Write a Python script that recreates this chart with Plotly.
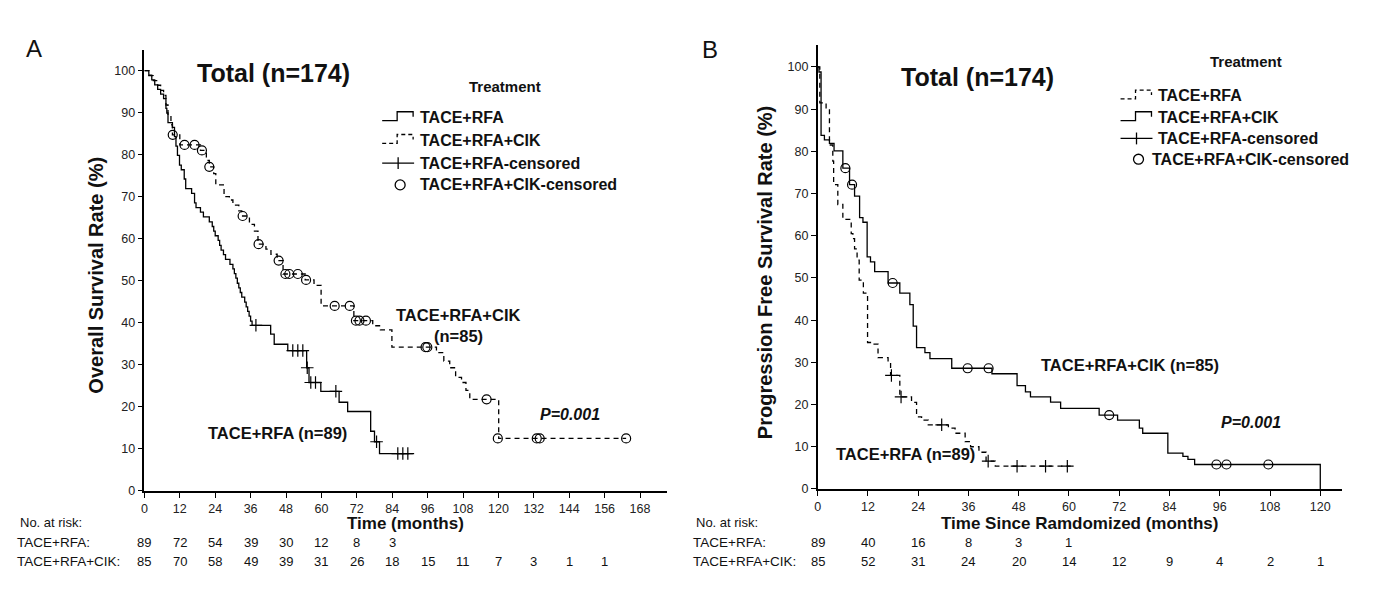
import plotly.graph_objects as go

W, H = 1377, 611           # reference picture size
OFF = 8                    # default page body margin
FW, FH = W - 2 * OFF, H - 2 * OFF
FONT = "Liberation Sans, Arial, sans-serif"

# ---------------- Panel A: overall survival ----------------
os_rfa_time = [1.5, 2.5, 3.5, 4.5, 5.5, 6.5, 7.3, 7.6, 8.0, 9.5, 10.2, 10.7, 11.2, 11.9, 12.5, 13.5,
               14.0, 16.0, 17.0, 17.5, 19.0, 20.0, 22.0, 23.0, 23.5, 24.0, 25.0, 25.5, 26.0, 26.8,
               27.5, 29.0, 30.0, 30.5, 31.0, 31.5, 32.0, 32.5, 33.0, 34.0, 34.5, 35.0, 35.5, 36.0,
               36.5, 42.8, 44.0, 48.6, 55.0, 55.8, 59.8, 66.0, 68.9, 76.7, 78.0, 79.7]
os_rfa_surv = [98.9, 97.8, 96.6, 95.5, 94.4, 93.3, 91.0, 89.9, 87.6, 86.5, 84.3, 82.0, 79.8, 77.5, 76.4, 74.2,
               71.9, 70.8, 68.5, 67.4, 66.3, 65.2, 64.0, 62.9, 61.8, 60.7, 59.6, 58.4, 57.3, 56.2,
               55.1, 53.9, 52.8, 51.7, 50.6, 49.4, 48.3, 47.2, 46.1, 44.9, 43.8, 42.7, 41.6, 40.4,
               39.4, 37.3, 34.9, 33.4, 29.3, 25.8, 23.7, 21.1, 18.9, 14.2, 11.7, 8.9]
os_rfa_end = 91.0
os_rfa_cens_time = [37.8, 50.3, 52.0, 53.7, 55.2, 56.4, 58.0, 64.9, 78.7, 85.9, 87.6, 89.3]
os_rfa_cens_surv = [39.4, 33.4, 33.4, 33.4, 29.3, 25.8, 25.8, 23.7, 11.7, 8.9, 8.9, 8.9]

os_cik_time = [1.5, 3.0, 4.5, 5.5, 6.5, 7.3, 8.0, 9.0, 9.5, 12.0, 19.0, 21.0, 22.0, 23.5, 24.2,
               27.0, 28.8, 30.0, 32.0, 33.0, 35.6, 37.3, 38.5, 41.2, 42.9, 45.0, 47.0, 54.5, 57.5,
               59.9, 71.0, 77.4, 80.0, 83.9, 99.0, 101.5, 103.5, 105.5, 107.5, 109.0, 110.3, 120.1]
os_cik_surv = [98.8, 97.6, 96.5, 95.3, 94.1, 91.8, 89.4, 87.1, 84.7, 82.3, 81.0, 78.6, 77.1, 75.5, 72.8,
               70.0, 69.2, 68.0, 66.6, 65.4, 63.4, 61.8, 58.7, 57.5, 56.3, 54.8, 51.6, 50.2, 48.9,
               44.0, 40.5, 39.3, 38.3, 34.2, 32.9, 30.9, 29.3, 27.0, 25.8, 23.9, 21.8, 12.5]
os_cik_end = 163.3
os_cik_cens_time = [9.6, 13.6, 17.0, 19.5, 22.0, 33.3, 38.7, 45.5, 47.8, 49.1, 52.0, 54.8, 64.5, 69.6,
                    71.7, 72.9, 75.1, 95.3, 95.9, 116.0, 119.8, 133.0, 134.0, 163.3]
os_cik_cens_surv = [84.7, 82.3, 82.3, 81.0, 77.1, 65.4, 58.7, 54.8, 51.6, 51.6, 51.6, 50.2, 44.0, 44.0,
                    40.5, 40.5, 40.5, 34.2, 34.2, 21.8, 12.5, 12.5, 12.5, 12.5]

os_ticks = list(range(0, 169, 12))
os_risk_rfa = [89, 72, 54, 39, 30, 12, 8, 3]
os_risk_cik = [85, 70, 58, 49, 39, 31, 26, 18, 15, 11, 7, 3, 1, 1]

# ---------------- Panel B: progression free survival ----------------
pfs_cik_time = [0.3, 0.8, 1.6, 2.8, 3.9, 6.0, 7.6, 8.8, 10.0, 10.8, 11.8, 12.6, 13.6, 16.8, 19.6,
                22.0, 22.8, 23.6, 25.6, 26.8, 32.0, 41.6, 47.6, 49.6, 50.8, 55.6, 58.0, 67.2, 71.6,
                76.8, 77.6, 83.6, 87.2, 88.4, 90.0, 120.0]
pfs_cik_surv = [98.8, 83.8, 82.7, 81.9, 80.1, 76.0, 72.1, 69.4, 64.3, 63.2, 55.0, 53.8, 51.5, 48.8, 46.4,
                43.7, 38.6, 33.5, 32.3, 30.9, 28.6, 27.3, 24.5, 23.0, 21.8, 20.6, 19.1, 17.5, 16.3,
                14.4, 13.2, 8.5, 7.7, 7.0, 5.8, 0.0]
pfs_cik_end = 120.0
pfs_cik_cens_time = [6.6, 8.2, 17.9, 35.8, 40.8, 69.6, 95.2, 97.6, 107.6]
pfs_cik_cens_surv = [76.0, 72.1, 48.8, 28.6, 28.6, 17.5, 5.8, 5.8, 5.8]

pfs_rfa_time = [0.5, 2.0, 2.8, 3.6, 3.8, 4.8, 6.0, 8.0, 8.4, 8.8, 9.4, 9.9, 10.9, 11.9, 12.8,
                14.4, 16.8, 17.4, 19.6, 22.4, 23.6, 24.8, 26.4, 31.2, 32.8, 35.2, 36.5, 38.5, 40.2, 42.4]
pfs_rfa_surv = [91.5, 90.0, 81.5, 77.7, 72.1, 67.4, 63.9, 60.5, 59.3, 56.9, 54.2, 49.5, 46.4, 34.7, 34.3,
                31.1, 30.0, 26.9, 21.8, 20.5, 17.1, 16.3, 15.2, 14.4, 13.2, 11.2, 10.0, 8.7, 6.6, 5.4]
pfs_rfa_end = 60.4
pfs_rfa_cens_time = [17.6, 19.9, 29.6, 40.7, 47.6, 54.4, 59.6]
pfs_rfa_cens_surv = [26.9, 21.8, 15.2, 6.6, 5.4, 5.4, 5.4]

pfs_ticks = list(range(0, 121, 12))
pfs_risk_rfa = [89, 40, 16, 8, 3, 1]
pfs_risk_cik = [85, 52, 31, 24, 20, 14, 12, 9, 4, 2, 1]

y_ticks = list(range(0, 101, 10))


def px(x):
    return (x - OFF) / FW


def py(y):
    return 1 - (y - OFF) / FH


def km(times, surv, end):
    xs = [0.0] + list(times)
    ys = [100.0] + list(surv)
    if xs[-1] < end:
        xs.append(end)
        ys.append(ys[-1])
    return xs, ys


fig = go.Figure()
LW = 1.3
DASH = "5px,4px"


def add_curve(times, surv, end, dash, xa, ya):
    xs, ys = km(times, surv, end)
    fig.add_trace(go.Scatter(x=xs, y=ys, mode="lines", line=dict(color="black", width=LW, dash=dash, shape="hv"),
                             xaxis=xa, yaxis=ya, showlegend=False, hoverinfo="skip"))


def add_cens(times, surv, symbol, size, xa, ya):
    fig.add_trace(go.Scatter(x=times, y=surv, mode="markers",
                             marker=dict(symbol=symbol, size=size, color="black",
                                         line=dict(color="black", width=1.2)),
                             xaxis=xa, yaxis=ya, showlegend=False, hoverinfo="skip"))


add_curve(os_rfa_time, os_rfa_surv, os_rfa_end, "solid", "x", "y")
add_curve(os_cik_time, os_cik_surv, os_cik_end, DASH, "x", "y")
add_cens(os_rfa_cens_time, os_rfa_cens_surv, "cross-thin-open", 9, "x", "y")
add_cens(os_cik_cens_time, os_cik_cens_surv, "circle-open", 9, "x", "y")

add_curve(pfs_rfa_time, pfs_rfa_surv, pfs_rfa_end, DASH, "x2", "y2")
add_curve(pfs_cik_time, pfs_cik_surv, pfs_cik_end, "solid", "x2", "y2")
add_cens(pfs_rfa_cens_time, pfs_rfa_cens_surv, "cross-thin-open", 9, "x2", "y2")
add_cens(pfs_cik_cens_time, pfs_cik_cens_surv, "circle-open", 9, "x2", "y2")

axis_common = dict(showline=True, linecolor="black", linewidth=1.5, ticks="outside", ticklen=5,
                   tickwidth=1.3, tickcolor="black", showgrid=False, zeroline=False,
                   tickfont=dict(family=FONT, size=12.5, color="#222"), fixedrange=True)

fig.update_layout(
    width=FW, height=FH, margin=dict(l=0, r=0, t=0, b=0),
    paper_bgcolor="white", plot_bgcolor="white", showlegend=False,
    xaxis=dict(domain=[px(141.7), px(665)], range=[0, 177], tickvals=os_ticks, anchor="y", **axis_common),
    yaxis=dict(domain=[py(496.7), py(50)], range=[0, 105], tickvals=y_ticks, anchor="x", **axis_common),
    xaxis2=dict(domain=[px(816.5), px(1342)], range=[0, 125.2], tickvals=pfs_ticks, anchor="y2", **axis_common),
    yaxis2=dict(domain=[py(494.7), py(45)], range=[0, 105.3], tickvals=y_ticks, anchor="x2", **axis_common),
)

ann = []


def text(x, y, s, size, bold=False, italic=False, xanchor="center", angle=0, xref="paper", color="#111"):
    t = s
    if bold:
        t = "<b>" + t + "</b>"
    if italic:
        t = "<i>" + t + "</i>"
    ann.append(dict(x=x if xref != "paper" else px(x), y=py(y), xref=xref, yref="paper", text=t,
                    showarrow=False, xanchor=xanchor, yanchor="middle", textangle=angle,
                    font=dict(family=FONT, size=size, color=color)))


# panel letters and titles
text(31, 49, "A", 24)
text(709, 50, "B", 24)
text(271, 74, "Total (n=174)", 25, bold=True)
text(977, 78, "Total (n=174)", 25, bold=True)

# axis titles
text(93, 278, "Overall Survival Rate (%)", 20, bold=True, angle=-90)
text(764, 276, "Progression Free Survival Rate (%)", 20, bold=True, angle=-90)
text(403, 530, "Time (months)", 17, bold=True)
text(1079, 530, "Time Since Ramdomized (months)", 17, bold=True)

# curve labels
text(456, 319, "TACE+RFA+CIK", 16.5, bold=True)
text(456, 340, "(n=85)", 16.5, bold=True)
text(275, 438, "TACE+RFA (n=89)", 16.5, bold=True)
text(568, 419, "P=0.001", 16, bold=True, italic=True)
text(1129, 369, "TACE+RFA+CIK (n=85)", 16.5, bold=True)
text(904, 459, "TACE+RFA (n=89)", 16.5, bold=True)
text(1251, 427, "P=0.001", 16, bold=True, italic=True)

# numbers at risk
for x0 in (12, 690):
    text(x0 + 3, 529, "No. at risk:", 13, xanchor="left")
    text(x0, 549, "TACE+RFA:", 13.5, xanchor="left")
    text(x0, 568, "TACE+RFA+CIK:", 13.5, xanchor="left")
for t, n in zip(os_ticks, os_risk_rfa):
    text(t, 549, str(n), 13, xref="x")
for t, n in zip(os_ticks, os_risk_cik):
    text(t, 568, str(n), 13, xref="x")
for t, n in zip(pfs_ticks, pfs_risk_rfa):
    text(t, 549, str(n), 13, xref="x2")
for t, n in zip(pfs_ticks, pfs_risk_cik):
    text(t, 568, str(n), 13, xref="x2")

# legends (drawn by hand to mimic KM legend glyphs)
shapes = []


def seg_path(pts):
    return "M " + " L ".join("%.5f,%.5f" % (px(a), py(b)) for a, b in pts)


def step_icon(x0, y, dash):
    pts = [(x0, y + 3), (x0 + 15, y + 3), (x0 + 15, y - 6), (x0 + 31, y - 6), (x0 + 31, y - 1)]
    shapes.append(dict(type="path", path=seg_path(pts), xref="paper", yref="paper",
                       line=dict(color="black", width=1.3, dash=dash)))


def cross_icon(x0, y):
    shapes.append(dict(type="path", path=seg_path([(x0, y), (x0 + 32, y)]), xref="paper", yref="paper",
                       line=dict(color="black", width=1.3)))
    shapes.append(dict(type="path", path=seg_path([(x0 + 16, y - 6), (x0 + 16, y + 6)]), xref="paper",
                       yref="paper", line=dict(color="black", width=1.3)))


def circle_icon(cx, y):
    shapes.append(dict(type="circle", x0=px(cx - 5), x1=px(cx + 5), y0=py(y + 5), y1=py(y - 5),
                       xref="paper", yref="paper", line=dict(color="black", width=1.3)))


LEG = ["TACE+RFA", "TACE+RFA+CIK", "TACE+RFA-censored", "TACE+RFA+CIK-censored"]

# Panel A legend
text(503, 87, "Treatment", 15, bold=True)
rowsA = [119, 142, 165, 187]
step_icon(380, rowsA[0], "solid")
step_icon(380, rowsA[1], "4px,3px")
cross_icon(380, rowsA[2])
circle_icon(398, rowsA[3])
for y, s in zip(rowsA, LEG):
    text(416, y, s, 16, bold=True, xanchor="left")

# Panel B legend
text(1246, 62, "Treatment", 15, bold=True)
rowsB = [97, 119, 140, 161]
step_icon(1120, rowsB[0], "4px,3px")
step_icon(1120, rowsB[1], "solid")
cross_icon(1120, rowsB[2])
circle_icon(1138, rowsB[3])
for y, s, x0 in zip(rowsB, LEG, [1156, 1156, 1156, 1150]):
    text(x0, y, s, 16, bold=True, xanchor="left")

fig.update_layout(annotations=ann, shapes=shapes)
fig.write_html("out.html")
